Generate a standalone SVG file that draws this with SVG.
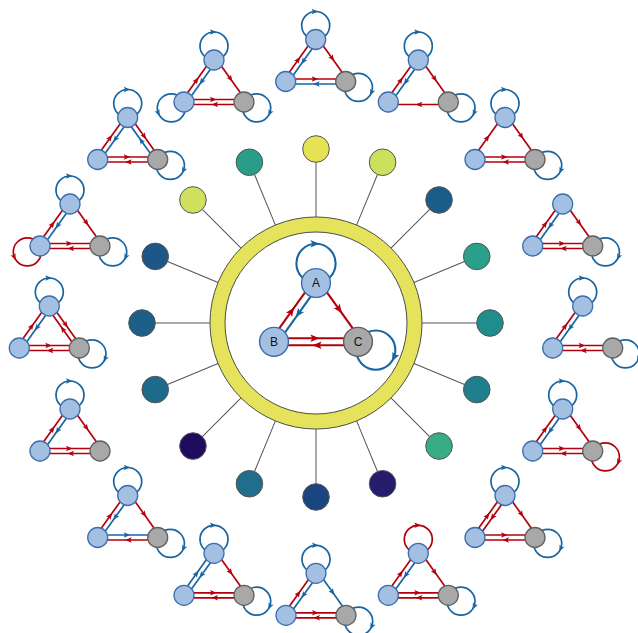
<svg xmlns="http://www.w3.org/2000/svg" width="638" height="633" viewBox="0 0 638 633">
<style>
.r{stroke:#b3000c;fill:#b3000c}
.b{stroke:#1765a2;fill:#1765a2}
.edges{stroke-width:1.7;stroke-linecap:butt}
.nb{fill:#a3c0e2;stroke:#3c6eae;stroke-width:1.3}
.ng{fill:#a8a8a8;stroke:#606060;stroke-width:1.3}
.spoke{stroke:#555;stroke-width:1}
.pin{stroke:#555;stroke-width:1}
.lbl{font-family:"Liberation Sans",Arial,sans-serif;font-size:12px;fill:#111;text-anchor:middle}
</style>
<defs>
  <!-- arrowhead pointing along +x, centred on the edge midpoint -->
  <path id="ah" d="M2.5,0 L-4,-2.7 L-2.6,0 L-4,2.7 Z" stroke="none"/>
  <!-- edge templates in motif coordinates: top node at (0,0), left (-30,42), right (30,42) -->
  <g id="e-LT"><line x1="-26.4" y1="32.65" x2="-7.67" y2="6.44"/><use href="#ah" transform="translate(-17.03,19.55) rotate(-54.46)"/></g>
  <g id="e-TL"><line x1="-3.6" y1="9.35" x2="-22.33" y2="35.56"/><use href="#ah" transform="translate(-12.97,22.45) rotate(125.54)"/></g>
  <g id="e-TR"><line x1="7.67" y1="6.44" x2="26.4" y2="32.65"/><use href="#ah" transform="translate(17.03,19.55) rotate(54.46)"/></g>
  <g id="e-RT"><line x1="22.33" y1="35.56" x2="3.6" y2="9.35"/><use href="#ah" transform="translate(12.97,22.45) rotate(-125.54)"/></g>
  <g id="e-LR"><line x1="-20.3" y1="39.5" x2="20.3" y2="39.5"/><use href="#ah" transform="translate(0,39.5)"/></g>
  <g id="e-RL"><line x1="20.3" y1="44.5" x2="-20.3" y2="44.5"/><use href="#ah" transform="translate(0,44.5) rotate(180)"/></g>
  <g id="e-lT"><circle cx="0" cy="-14" r="14" fill="none"/><use href="#ah" transform="translate(0,-28)"/></g>
  <g id="e-lR"><circle cx="42.69" cy="47.92" r="14" fill="none"/><use href="#ah" transform="translate(55.38,53.84) rotate(115)"/></g>
  <g id="e-lL"><circle cx="-42.69" cy="47.92" r="14" fill="none"/><use href="#ah" transform="translate(-55.38,53.84) rotate(65)"/></g>
  <!-- the three motif vertices -->
  <g id="tri">
    <circle class="nb" cx="0" cy="0" r="10"/>
    <circle class="nb" cx="-30" cy="42" r="10"/>
    <circle class="ng" cx="30" cy="42" r="10"/>
  </g>
</defs>

<rect width="638" height="633" fill="#fff"/>

<!-- spokes from the ring to the outer coloured vertices -->
<g id="connectors">
  <g class="spoke">
    <line x1="316" y1="217" x2="316" y2="162.3" transform="rotate(0 316 323)"/>
    <line x1="316" y1="217" x2="316" y2="162.3" transform="rotate(22.5 316 323)"/>
    <line x1="316" y1="217" x2="316" y2="162.3" transform="rotate(45 316 323)"/>
    <line x1="316" y1="217" x2="316" y2="162.3" transform="rotate(67.5 316 323)"/>
    <line x1="316" y1="217" x2="316" y2="162.3" transform="rotate(90 316 323)"/>
    <line x1="316" y1="217" x2="316" y2="162.3" transform="rotate(112.5 316 323)"/>
    <line x1="316" y1="217" x2="316" y2="162.3" transform="rotate(135 316 323)"/>
    <line x1="316" y1="217" x2="316" y2="162.3" transform="rotate(157.5 316 323)"/>
    <line x1="316" y1="217" x2="316" y2="162.3" transform="rotate(180 316 323)"/>
    <line x1="316" y1="217" x2="316" y2="162.3" transform="rotate(202.5 316 323)"/>
    <line x1="316" y1="217" x2="316" y2="162.3" transform="rotate(225 316 323)"/>
    <line x1="316" y1="217" x2="316" y2="162.3" transform="rotate(247.5 316 323)"/>
    <line x1="316" y1="217" x2="316" y2="162.3" transform="rotate(270 316 323)"/>
    <line x1="316" y1="217" x2="316" y2="162.3" transform="rotate(292.5 316 323)"/>
    <line x1="316" y1="217" x2="316" y2="162.3" transform="rotate(315 316 323)"/>
    <line x1="316" y1="217" x2="316" y2="162.3" transform="rotate(337.5 316 323)"/>
  </g>
</g>

<!-- central ring -->
<g id="ring">
  <path d="M210,323 a106,106 0 1,0 212,0 a106,106 0 1,0 -212,0 Z M225,323 a91,91 0 1,0 182,0 a91,91 0 1,0 -182,0 Z" fill="#e5e25b" fill-rule="evenodd" stroke="#4d4d4d" stroke-width="1"/>
</g>

<!-- outer coloured vertices -->
<g class="pin">
  <g id="s0"><circle cx="316" cy="149" r="13.3" fill="#e5e256"/></g>
  <g id="s1"><circle cx="382.59" cy="162.24" r="13.3" fill="#cce05e"/></g>
  <g id="s2"><circle cx="439.04" cy="199.96" r="13.3" fill="#1c5c8a"/></g>
  <g id="s3"><circle cx="476.76" cy="256.41" r="13.3" fill="#2aa08a"/></g>
  <g id="s4"><circle cx="490" cy="323" r="13.3" fill="#208d8d"/></g>
  <g id="s5"><circle cx="476.76" cy="389.59" r="13.3" fill="#1f7f8c"/></g>
  <g id="s6"><circle cx="439.04" cy="446.04" r="13.3" fill="#38ac84"/></g>
  <g id="s7"><circle cx="382.59" cy="483.76" r="13.3" fill="#251c6e"/></g>
  <g id="s8"><circle cx="316" cy="497" r="13.3" fill="#1b4580"/></g>
  <g id="s9"><circle cx="249.41" cy="483.76" r="13.3" fill="#1f6e8b"/></g>
  <g id="s10"><circle cx="192.96" cy="446.04" r="13.3" fill="#1f0c5f"/></g>
  <g id="s11"><circle cx="155.24" cy="389.59" r="13.3" fill="#1e6a8a"/></g>
  <g id="s12"><circle cx="142" cy="323" r="13.3" fill="#1e5f8a"/></g>
  <g id="s13"><circle cx="155.24" cy="256.41" r="13.3" fill="#1d5787"/></g>
  <g id="s14"><circle cx="192.96" cy="199.96" r="13.3" fill="#d1e15d"/></g>
  <g id="s15"><circle cx="249.41" cy="162.24" r="13.3" fill="#2a9d88"/></g>
</g>

<!-- central motif A, B, C -->
<g id="motif-abc" transform="translate(316,283) scale(1.4)">
  <g class="edges" style="stroke-width:1.5">
    <use href="#e-lT" class="b"/>
    <use href="#e-LT" class="r"/>
    <use href="#e-TL" class="b"/>
    <use href="#e-TR" class="r"/>
    <use href="#e-LR" class="r"/>
    <use href="#e-RL" class="r"/>
    <use href="#e-lR" class="b"/>
  </g>
  <g id="A"><circle class="nb" cx="0" cy="0" r="10.3" style="stroke-width:1"/></g>
  <g id="B"><circle class="nb" cx="-30" cy="42" r="10.3" style="stroke-width:1"/></g>
  <g id="C"><circle class="ng" cx="30" cy="42" r="10.3" style="stroke-width:1"/></g>
</g>
<g class="lbl">
  <text x="316" y="287.3">A</text>
  <text x="274" y="346.2">B</text>
  <text x="358" y="346.2">C</text>
</g>

<!-- surrounding motifs -->
<g id="m1" transform="translate(315.7,39.5)">
  <g class="edges"><use href="#e-lT" class="b"/><use href="#e-LT" class="r"/><use href="#e-TL" class="b"/><use href="#e-TR" class="r"/><use href="#e-LR" class="r"/><use href="#e-RL" class="b"/><use href="#e-lR" class="b"/></g>
  <use href="#tri"/>
</g>
<g id="m2" transform="translate(214,60)">
  <g class="edges"><use href="#e-lT" class="b"/><use href="#e-LT" class="r"/><use href="#e-TL" class="b"/><use href="#e-TR" class="r"/><use href="#e-LR" class="r"/><use href="#e-RL" class="r"/><use href="#e-lR" class="b"/><use href="#e-lL" class="b"/></g>
  <use href="#tri"/>
</g>
<g id="m3" transform="translate(418.3,60)">
  <g class="edges"><use href="#e-lT" class="b"/><use href="#e-LT" class="r"/><use href="#e-TL" class="b"/><use href="#e-TR" class="r"/><use href="#e-RL" class="r"/><use href="#e-lR" class="b"/></g>
  <use href="#tri"/>
</g>
<g id="m4" transform="translate(505,117.5)">
  <g class="edges"><use href="#e-lT" class="b"/><use href="#e-LT" class="r"/><use href="#e-TR" class="r"/><use href="#e-LR" class="r"/><use href="#e-RL" class="r"/><use href="#e-lR" class="b"/></g>
  <use href="#tri"/>
</g>
<g id="m5" transform="translate(562.7,204)">
  <g class="edges"><use href="#e-LT" class="r"/><use href="#e-TL" class="b"/><use href="#e-TR" class="r"/><use href="#e-LR" class="r"/><use href="#e-RL" class="r"/><use href="#e-lR" class="b"/></g>
  <use href="#tri"/>
</g>
<g id="m6" transform="translate(582.7,306)">
  <g class="edges"><use href="#e-lT" class="b"/><use href="#e-LT" class="r"/><use href="#e-TL" class="b"/><use href="#e-LR" class="r"/><use href="#e-RL" class="r"/><use href="#e-lR" class="b"/></g>
  <use href="#tri"/>
</g>
<g id="m7" transform="translate(562.7,409)">
  <g class="edges"><use href="#e-lT" class="b"/><use href="#e-LT" class="r"/><use href="#e-TL" class="b"/><use href="#e-TR" class="r"/><use href="#e-LR" class="r"/><use href="#e-RL" class="r"/><use href="#e-lR" class="r"/></g>
  <use href="#tri"/>
</g>
<g id="m8" transform="translate(505,495.5)">
  <g class="edges"><use href="#e-lT" class="b"/><use href="#e-LT" class="r"/><use href="#e-TL" class="r"/><use href="#e-TR" class="r"/><use href="#e-LR" class="r"/><use href="#e-RL" class="r"/><use href="#e-lR" class="b"/></g>
  <use href="#tri"/>
</g>
<g id="m9" transform="translate(418.3,553.3)">
  <g class="edges"><use href="#e-lT" class="r"/><use href="#e-LT" class="r"/><use href="#e-TL" class="b"/><use href="#e-TR" class="r"/><use href="#e-LR" class="r"/><use href="#e-RL" class="r"/><use href="#e-lR" class="b"/></g>
  <use href="#tri"/>
</g>
<g id="m10" transform="translate(316,573.3)">
  <g class="edges"><use href="#e-lT" class="b"/><use href="#e-LT" class="r"/><use href="#e-TL" class="b"/><use href="#e-TR" class="b"/><use href="#e-LR" class="r"/><use href="#e-RL" class="r"/><use href="#e-lR" class="b"/></g>
  <use href="#tri"/>
</g>
<g id="m11" transform="translate(214,553.3)">
  <g class="edges"><use href="#e-lT" class="b"/><use href="#e-LT" class="b"/><use href="#e-TL" class="b"/><use href="#e-TR" class="r"/><use href="#e-LR" class="r"/><use href="#e-RL" class="r"/><use href="#e-lR" class="b"/></g>
  <use href="#tri"/>
</g>
<g id="m12" transform="translate(127.7,495.5)">
  <g class="edges"><use href="#e-lT" class="b"/><use href="#e-LT" class="r"/><use href="#e-TL" class="b"/><use href="#e-TR" class="r"/><use href="#e-LR" class="b"/><use href="#e-RL" class="r"/><use href="#e-lR" class="b"/></g>
  <use href="#tri"/>
</g>
<g id="m13" transform="translate(70,409)">
  <g class="edges"><use href="#e-lT" class="b"/><use href="#e-LT" class="r"/><use href="#e-TL" class="b"/><use href="#e-TR" class="r"/><use href="#e-LR" class="r"/><use href="#e-RL" class="r"/></g>
  <use href="#tri"/>
</g>
<g id="m14" transform="translate(49.3,306)">
  <g class="edges"><use href="#e-lT" class="b"/><use href="#e-LT" class="r"/><use href="#e-TL" class="b"/><use href="#e-TR" class="r"/><use href="#e-RT" class="r"/><use href="#e-LR" class="r"/><use href="#e-RL" class="r"/><use href="#e-lR" class="b"/></g>
  <use href="#tri"/>
</g>
<g id="m15" transform="translate(70,204)">
  <g class="edges"><use href="#e-lT" class="b"/><use href="#e-LT" class="r"/><use href="#e-TL" class="b"/><use href="#e-TR" class="r"/><use href="#e-LR" class="r"/><use href="#e-RL" class="r"/><use href="#e-lR" class="b"/><use href="#e-lL" class="r"/></g>
  <use href="#tri"/>
</g>
<g id="m16" transform="translate(127.7,117.5)">
  <g class="edges"><use href="#e-lT" class="b"/><use href="#e-LT" class="r"/><use href="#e-TL" class="b"/><use href="#e-TR" class="r"/><use href="#e-RT" class="b"/><use href="#e-LR" class="r"/><use href="#e-RL" class="r"/><use href="#e-lR" class="b"/></g>
  <use href="#tri"/>
</g>
</svg>
